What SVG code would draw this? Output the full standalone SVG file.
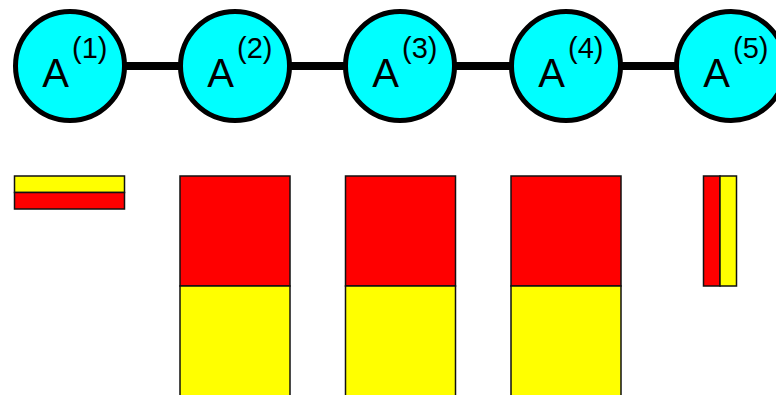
<svg xmlns="http://www.w3.org/2000/svg" width="776" height="395" viewBox="0 0 776 395">
  <style>
    .node circle { fill: #00ffff; stroke: #000; stroke-width: 5; }
    .edge { stroke: #000; stroke-width: 8; }
    .lbl { font-family: "Liberation Sans", Arial, sans-serif; fill: #000; }
    .main { font-size: 40px; }
    .sup { font-size: 29px; }
    .blk { stroke: #111; stroke-width: 1.5; }
    .red { fill: #ff0000; }
    .yel { fill: #ffff00; }
  </style>
  <rect width="776" height="395" fill="#fff"/>

  <!-- chain connectors -->
  <g id="connectors">
    <line class="edge" x1="70" y1="66" x2="235" y2="66"/>
    <line class="edge" x1="235" y1="66" x2="400" y2="66"/>
    <line class="edge" x1="400" y1="66" x2="566" y2="66"/>
    <line class="edge" x1="566" y1="66" x2="731" y2="66"/>
  </g>

  <!-- tensor nodes -->
  <g id="A1" class="node">
    <circle cx="70" cy="66" r="54.5"/>
    <text class="lbl main" x="42.3" y="87">A</text>
    <text class="lbl sup" x="72" y="58">(1)</text>
  </g>
  <g id="A2" class="node">
    <circle cx="235" cy="66" r="54.5"/>
    <text class="lbl main" x="207.3" y="87">A</text>
    <text class="lbl sup" x="237" y="58">(2)</text>
  </g>
  <g id="A3" class="node">
    <circle cx="400" cy="66" r="54.5"/>
    <text class="lbl main" x="372.3" y="87">A</text>
    <text class="lbl sup" x="402" y="58">(3)</text>
  </g>
  <g id="A4" class="node">
    <circle cx="566" cy="66" r="54.5"/>
    <text class="lbl main" x="538.3" y="87">A</text>
    <text class="lbl sup" x="568" y="58">(4)</text>
  </g>
  <g id="A5" class="node">
    <circle cx="731" cy="66" r="54.5"/>
    <text class="lbl main" x="703.3" y="87">A</text>
    <text class="lbl sup" x="733" y="58">(5)</text>
  </g>

  <!-- block shapes of each tensor -->
  <g id="B1">
    <rect class="blk yel" x="14.5" y="176" width="110" height="16.5"/>
    <rect class="blk red" x="14.5" y="192.5" width="110" height="16.5"/>
  </g>
  <g id="B2">
    <rect class="blk red" x="180" y="176" width="110" height="110"/>
    <rect class="blk yel" x="180" y="286" width="110" height="112"/>
  </g>
  <g id="B3">
    <rect class="blk red" x="345.5" y="176" width="110" height="110"/>
    <rect class="blk yel" x="345.5" y="286" width="110" height="112"/>
  </g>
  <g id="B4">
    <rect class="blk red" x="511" y="176" width="110" height="110"/>
    <rect class="blk yel" x="511" y="286" width="110" height="112"/>
  </g>
  <g id="B5">
    <rect class="blk red" x="703.5" y="176" width="16.5" height="110"/>
    <rect class="blk yel" x="720" y="176" width="16.5" height="110"/>
  </g>
</svg>
